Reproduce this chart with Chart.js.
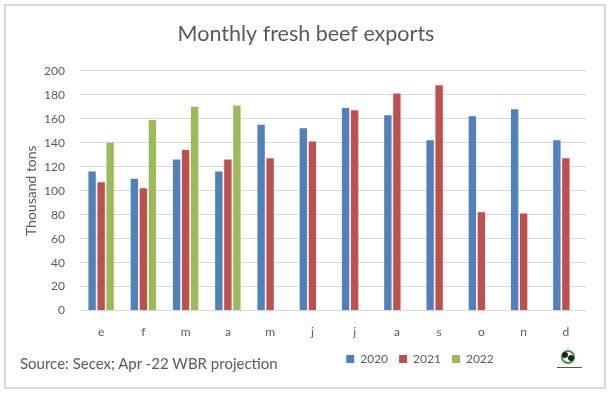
<!DOCTYPE html>
<html>
<head>
<meta charset="utf-8">
<script src="https://cdn.jsdelivr.net/npm/chart.js@4.4.1/dist/chart.umd.min.js"></script>
<style>
  body { margin: 0; background: #fff; }
  .frame { position: absolute; left: 4px; top: 4px; width: 598px; height: 381px; border: 2px solid #d9d9d9; }
  .wrap { position: absolute; left: 0; top: 0; width: 615px; height: 395px; }
  .source { position: absolute; left: 20px; top: 354px; font: 15px Lato, sans-serif; color: #595959; }
</style>
</head>
<body>
<div class="frame"></div>
<div class="wrap"><canvas id="beefChart"></canvas></div>
<div class="source">Source: Secex; Apr -22 WBR projection</div>
<script>
const months = ['e', 'f', 'm', 'a', 'm', 'j', 'j', 'a', 's', 'o', 'n', 'd'];
const exports2020 = [116, 110, 126, 116, 155, 152, 169, 163, 142, 162, 168, 142];
const exports2021 = [107, 102, 134, 126, 127, 141, 167, 181, 188, 82, 81, 127];
const exports2022 = [140, 159, 170, 171, null, null, null, null, null, null, null, null];
const yMin = 0;
const yMax = 200;
const yStep = 20;

const grey = '#595959';

// moves title + legend to where the excel ones sit, and draws the little logo
const extras = {
  id: 'extras',
  afterLayout(chart) {
    const legend = chart.legend;
    const dx = 420 - (legend.left + legend.right) / 2;
    legend.left += dx;
    legend.right += dx;
    legend.top -= 3;
    legend.bottom -= 3;
    const title = chart.titleBlock;
    const tx = 306 - (title.left + title.right) / 2;
    title.left += tx;
    title.right += tx;
  },
  afterDraw(chart) {
    const ctx = chart.ctx;
    ctx.save();
    ctx.strokeStyle = '#3a9a3a';
    ctx.lineWidth = 2;
    ctx.beginPath();
    ctx.arc(568, 357, 6, 0, Math.PI * 2);
    ctx.stroke();
    ctx.fillStyle = '#222';
    ctx.beginPath();
    ctx.arc(565, 355, 3, 0, Math.PI * 2);
    ctx.arc(571, 358, 3, 0, Math.PI * 2);
    ctx.fill();
    ctx.fillStyle = '#555';
    ctx.fillRect(557, 367, 25, 1);
    ctx.restore();
  }
};

new Chart(document.getElementById('beefChart').getContext('2d'), {
  type: 'bar',
  data: {
    labels: months,
    datasets: [
      { label: '2020', data: exports2020, backgroundColor: '#4F81BD' },
      { label: '2021', data: exports2021, backgroundColor: '#C0504D' },
      { label: '2022', data: exports2022, backgroundColor: '#9BBB59' }
    ]
  },
  options: {
    responsive: true,
    maintainAspectRatio: false,
    animation: false,
    categoryPercentage: 0.64,
    barPercentage: 0.82,
    layout: { padding: { left: 0, right: 28, top: 0, bottom: 17 } },
    plugins: {
      title: {
        display: true,
        text: 'Monthly fresh beef exports',
        color: grey,
        font: { family: 'Lato', size: 21.5, weight: 'normal' },
        padding: { top: 21, bottom: 24 }
      },
      legend: {
        position: 'bottom',
        labels: {
          boxWidth: 8,
          boxHeight: 8,
          padding: 11,
          color: grey,
          font: { family: 'Lato', size: 12 }
        }
      },
      tooltip: { enabled: false }
    },
    scales: {
      x: {
        grid: { display: false },
        border: { display: false },
        ticks: { color: grey, padding: 6, font: { family: 'Lato', size: 12 } }
      },
      y: {
        min: yMin,
        max: yMax,
        grid: { color: '#d9d9d9', drawTicks: false },
        border: { display: false },
        ticks: { stepSize: yStep, padding: 15, color: grey, font: { family: 'Lato', size: 12 } },
        title: {
          display: true,
          text: 'Thousand tons',
          color: grey,
          font: { family: 'Lato', size: 14 },
          padding: { top: 23, bottom: 0 }
        },
        afterFit(scale) {
          scale.width = 80;
        }
      }
    }
  },
  plugins: [extras]
});
</script>
</body>
</html>
